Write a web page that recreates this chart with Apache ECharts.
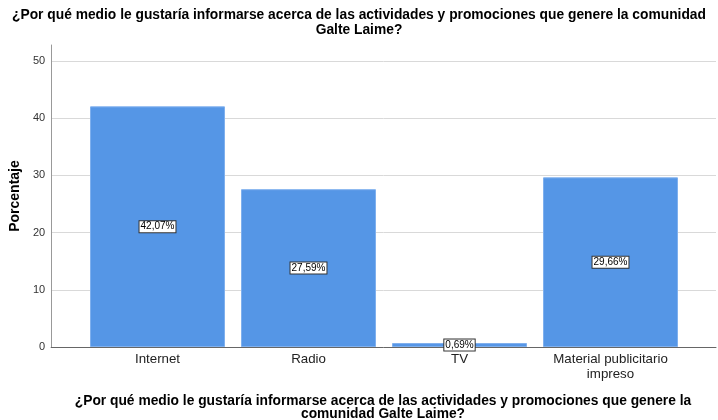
<!DOCTYPE html>
<html>
<head>
<meta charset="utf-8">
<script src="https://cdn.jsdelivr.net/npm/echarts@6/dist/echarts.min.js"></script>
<style>
    html, body { margin: 0; padding: 0; background: #fff; }
    #chart { width: 718px; height: 420px; }
</style>
</head>
<body>
<div id="chart"></div>
<script>
// Data
var categories = ['Internet', 'Radio', 'TV', 'Material publicitario\nimpreso'];
var percentages = [42.07, 27.59, 0.69, 29.66];
var yTicks = [0, 10, 20, 30, 40, 50];

var questionTitle = '¿Por qué medio le gustaría informarse acerca de las actividades y promociones que genere la comunidad\nGalte Laime?';
var axisTitle = '¿Por qué medio le gustaría informarse acerca de las actividades y promociones que genere la\ncomunidad Galte Laime?';

var fontFamily = '"Liberation Sans", Arial, sans-serif';

var chart = echarts.init(document.getElementById('chart'), null, { renderer: 'canvas' });

chart.setOption({
    animation: false,
    textStyle: { fontFamily: fontFamily },

    title: [
        {
            text: questionTitle,
            left: 359,
            top: 8,
            textAlign: 'center',
            padding: 0,
            textStyle: { fontSize: 13.8, fontWeight: 'bold', color: '#000', lineHeight: 15, fontFamily: fontFamily }
        },
        {
            text: axisTitle,
            left: 383,
            top: 395,
            textAlign: 'center',
            padding: 0,
            textStyle: { fontSize: 13.8, fontWeight: 'bold', color: '#000', lineHeight: 13, fontFamily: fontFamily }
        }
    ],

    // Grid 0: frame, y axis and gridlines; grid 1: bars
    grid: [
        { left: 48, right: 2, top: 45, bottom: 73 },
        { left: 82, right: 32, top: 45, bottom: 73 }
    ],

    xAxis: [
        {
            gridIndex: 0,
            type: 'value',
            min: 0,
            max: 1,
            axisLine: { show: true, lineStyle: { color: '#666', width: 1 } },
            axisTick: { show: false },
            axisLabel: { show: false },
            splitLine: { show: false }
        },
        {
            gridIndex: 1,
            type: 'category',
            data: categories,
            axisLine: { show: false },
            axisTick: { show: false },
            axisLabel: {
                interval: 0,
                color: '#222',
                fontSize: 13.3,
                lineHeight: 15,
                margin: 5,
                fontFamily: fontFamily
            }
        }
    ],

    yAxis: [
        {
            gridIndex: 0,
            type: 'value',
            min: 0,
            max: 52.8,
            interval: 10,
            name: 'Porcentaje',
            nameLocation: 'middle',
            nameGap: 29,
            nameTextStyle: { fontSize: 14, fontWeight: 'bold', color: '#000', fontFamily: fontFamily },
            axisLine: { show: true, lineStyle: { color: '#999' } },
            axisTick: { show: false },
            axisLabel: {
                color: '#333',
                fontSize: 11,
                margin: 6,
                formatter: function (v) {
                    return yTicks.indexOf(v) >= 0 ? String(v) : '';
                }
            },
            splitLine: {
                show: true,
                lineStyle: {
                    color: ['#d9d9d9', '#d9d9d9', '#d9d9d9', '#d9d9d9', '#d9d9d9', '#d9d9d9', 'transparent']
                }
            }
        },
        {
            gridIndex: 1,
            type: 'value',
            min: 0,
            max: 52.8,
            show: false
        }
    ],

    series: [
        {
            type: 'bar',
            xAxisIndex: 1,
            yAxisIndex: 1,
            data: percentages,
            barWidth: 135,
            itemStyle: {
                color: '#5596e6',
                borderColor: '#7fb0ee',
                borderWidth: 1
            },
            label: {
                show: true,
                position: 'inside',
                color: '#000',
                fontSize: 10,
                backgroundColor: '#fff',
                borderColor: '#333',
                borderWidth: 1,
                padding: [1, 1, 0, 1],
                formatter: function (p) {
                    return p.value.toFixed(2).replace('.', ',') + '%';
                }
            }
        }
    ]
});
</script>
</body>
</html>
